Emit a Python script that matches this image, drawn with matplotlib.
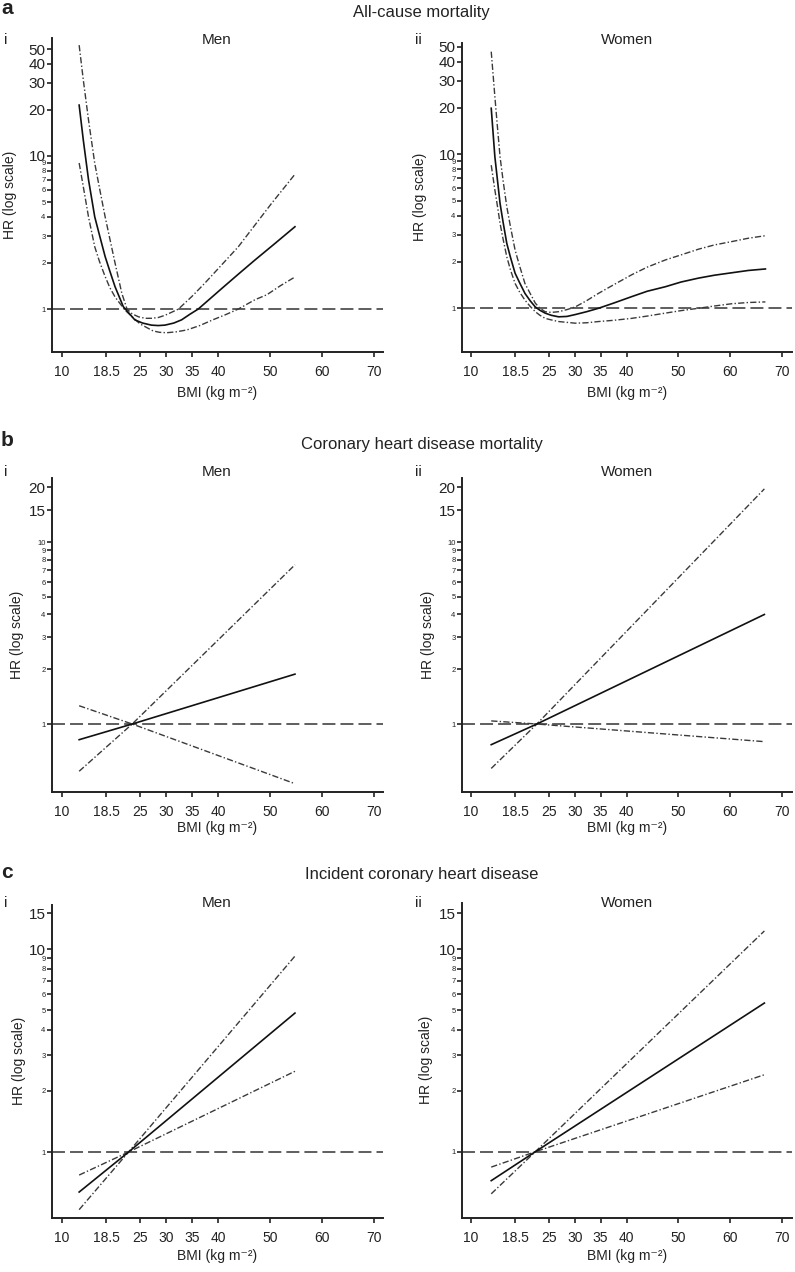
import matplotlib
matplotlib.use('Agg')
import matplotlib.pyplot as plt
from matplotlib.ticker import FixedLocator, FixedFormatter, NullLocator

plt.rcParams['font.family'] = ['Liberation Sans', 'DejaVu Sans']

# ---------------- data (BMI, HR) ----------------
# a) All-cause mortality, Men
a_men_bmi = [13.3, 14.1, 15.1, 16.3, 17.2, 18.3, 19.2, 20.2, 21.8, 23.0, 24.0, 25.5, 27.2,
             28.5, 29.8, 31.5, 33.0, 34.5, 36.2, 38.5, 40.7, 44.0, 47.1, 51.0, 54.8]
a_men_hr = [21.5, 12.7, 7.0, 4.0, 3.05, 2.2, 1.77, 1.40, 1.035, 0.93, 0.85, 0.81, 0.785,
            0.78, 0.785, 0.81, 0.85, 0.92, 1.0, 1.17, 1.36, 1.70, 2.09, 2.69, 3.45]
a_men_up_bmi = [13.3, 14.1, 15.1, 16.3, 17.2, 18.3, 19.2, 20.2, 21.5, 22.5, 23.5, 24.7, 26.0,
                27.2, 28.5, 29.8, 31.0, 32.4, 35.0, 37.5, 40.5, 43.9, 47.0, 50.3, 52.5, 54.8]
a_men_up_hr = [53.0, 31.4, 17.2, 8.96, 6.2, 4.0, 2.88, 2.0, 1.27, 1.0, 0.93, 0.89, 0.87,
               0.87, 0.88, 0.91, 0.95, 1.0, 1.21, 1.48, 1.91, 2.55, 3.5, 4.9, 6.07, 7.6]
a_men_lo_bmi = [13.3, 14.1, 15.1, 16.3, 17.2, 18.3, 19.2, 20.2, 22.1, 23.5, 25.0, 26.2, 27.5,
                28.7, 30.1, 32.0, 34.0, 36.5, 39.0, 41.5, 43.9, 47.1, 49.4, 52.0, 54.8]
a_men_lo_hr = [9.0, 6.3, 4.0, 2.55, 2.05, 1.63, 1.38, 1.2, 0.985, 0.89, 0.80, 0.76, 0.72,
               0.705, 0.70, 0.71, 0.73, 0.78, 0.85, 0.92, 1.0, 1.15, 1.24, 1.42, 1.62]

# a) All-cause mortality, Women
a_wom_bmi = [13.9, 14.6, 15.1, 15.6, 16.2, 16.9, 17.6, 18.5, 19.4, 20.4, 21.4, 22.4, 23.3,
             24.3, 25.5, 26.9, 28.5, 30.1, 32.3, 34.6, 37.5, 41.0, 44.0, 47.5, 50.5, 53.9,
             57.0, 60.3, 63.5, 66.8]
a_wom_hr = [19.9, 9.65, 6.8, 4.8, 3.6, 2.64, 2.15, 1.69, 1.46, 1.25, 1.12, 1.02, 0.97,
            0.93, 0.90, 0.88, 0.885, 0.91, 0.95, 1.0, 1.08, 1.19, 1.29, 1.38, 1.48, 1.57,
            1.64, 1.70, 1.76, 1.80]
a_wom_up_hr = [46.4, 23.7, 15.0, 9.65, 6.7, 4.57, 3.4, 2.39, 1.87, 1.45, 1.25, 1.08, 1.0,
               0.95, 0.94, 0.95, 0.98, 1.02, 1.12, 1.25, 1.42, 1.65, 1.85, 2.06, 2.22, 2.42,
               2.58, 2.71, 2.85, 2.96]
a_wom_lo_hr = [8.5, 5.87, 4.6, 3.56, 2.8, 2.16, 1.78, 1.45, 1.27, 1.13, 1.03, 0.95, 0.90,
               0.86, 0.84, 0.82, 0.81, 0.80, 0.805, 0.82, 0.835, 0.86, 0.89, 0.93, 0.965, 1.0,
               1.035, 1.07, 1.09, 1.10]

# b) Coronary heart disease mortality
b_men_bmi = [13.3, 23.5, 54.8]
b_men_hr = [0.82, 1.0, 1.88]
b_men_up_hr = [0.55, 1.0, 7.5]
b_men_lo_hr = [1.26, 1.0, 0.47]
b_wom_bmi = [13.9, 22.7, 66.6]
b_wom_hr = [0.77, 1.0, 4.0]
b_wom_up_hr = [0.57, 1.0, 19.6]
b_wom_lo_hr = [1.04, 1.0, 0.80]

# c) Incident coronary heart disease
c_men_bmi = [13.3, 22.8, 54.8]
c_men_hr = [0.635, 1.0, 4.84]
c_men_up_hr = [0.52, 1.0, 9.24]
c_men_lo_hr = [0.77, 1.0, 2.5]
c_wom_bmi = [13.9, 22.4, 66.6]
c_wom_hr = [0.72, 1.0, 5.42]
c_wom_up_hr = [0.62, 1.0, 12.3]
c_wom_lo_hr = [0.84, 1.0, 2.4]

x_ticks = [10, 18.5, 25, 30, 35, 40, 50, 60, 70]
x_tick_labels = ['10', '18.5', '25', '30', '35', '40', '50', '60', '70']

a_yticks = [1, 2, 3, 4, 5, 6, 7, 8, 9, 10, 20, 30, 40, 50]
a_big = [10, 20, 30, 40, 50]
b_yticks = [1, 2, 3, 4, 5, 6, 7, 8, 9, 10, 15, 20]
b_big = [15, 20]
c_yticks = [1, 2, 3, 4, 5, 6, 7, 8, 9, 10, 15]
c_big = [10, 15]

section_titles = ['All-cause mortality', 'Coronary heart disease mortality',
                  'Incident coronary heart disease']
section_letters = ['a', 'b', 'c']
sex_titles = ['Men', 'Women']
sex_numerals = ['i', 'ii']

# ---------------- figure ----------------
W, H = 795, 1272
fig = plt.figure(figsize=(W / 100, H / 100), dpi=100)


def add_ax(left, right, top, bottom):
    return fig.add_axes([left / W, 1 - bottom / H, (right - left) / W, (bottom - top) / H])


def ftext(x, y, s, **kw):
    fig.text(x / W, 1 - y / H, s, **kw)


CI_STYLE = dict(color='#3a3a3a', lw=1.0, ls=(0, (4.5, 1.6, 1.0, 1.6)))
EST_STYLE = dict(color='#111111', lw=1.2, ls='-')


def style_axes(ax, xlim, ylim, yticks, big):
    ax.set_yscale('log')
    ax.set_xlim(*xlim)
    ax.set_ylim(*ylim)
    for s in ['top', 'right']:
        ax.spines[s].set_visible(False)
    for s in ['left', 'bottom']:
        ax.spines[s].set_linewidth(1.4)
        ax.spines[s].set_color('#222222')
    ax.xaxis.set_major_locator(FixedLocator(x_ticks))
    ax.xaxis.set_major_formatter(FixedFormatter(x_tick_labels))
    ax.xaxis.set_minor_locator(NullLocator())
    ax.yaxis.set_major_locator(FixedLocator(yticks))
    ax.yaxis.set_major_formatter(FixedFormatter([str(v) for v in yticks]))
    ax.yaxis.set_minor_locator(NullLocator())
    ax.tick_params(axis='x', direction='out', length=3.6, width=1.2, pad=6,
                   labelsize=10, colors='#222222')
    ax.tick_params(axis='y', direction='out', length=3.6, width=1.2, pad=1,
                   colors='#222222')
    for lab, v in zip(ax.get_yticklabels(), yticks):
        lab.set_fontsize(11 if v in big else 5.5)
    ax.axhline(1.0, color='#333333', lw=1.1, ls=(0, (8.5, 3.3)), zorder=1)


def draw(ax, bmi, hr, up_bmi, up, lo_bmi, lo):
    ax.plot(up_bmi, up, **CI_STYLE, zorder=2)
    ax.plot(lo_bmi, lo, **CI_STYLE, zorder=2)
    ax.plot(bmi, hr, **EST_STYLE, zorder=3)


men_x = (8.08, 71.73)
wom_x = (8.26, 71.93)

# panel a
ax = add_ax(52, 383, 38, 352)
style_axes(ax, men_x, (0.524, 59.0), a_yticks, a_big)
draw(ax, a_men_bmi, a_men_hr, a_men_up_bmi, a_men_up_hr, a_men_lo_bmi, a_men_lo_hr)
ax = add_ax(462, 792, 43, 352)
style_axes(ax, wom_x, (0.520, 52.8), a_yticks, a_big)
draw(ax, a_wom_bmi, a_wom_hr, a_wom_bmi, a_wom_up_hr, a_wom_bmi, a_wom_lo_hr)

# panel b
ax = add_ax(52, 383, 478, 792)
style_axes(ax, men_x, (0.423, 22.5), b_yticks, b_big)
draw(ax, b_men_bmi, b_men_hr, b_men_bmi, b_men_up_hr, b_men_bmi, b_men_lo_hr)
ax = add_ax(462, 792, 478, 792)
style_axes(ax, wom_x, (0.423, 22.5), b_yticks, b_big)
draw(ax, b_wom_bmi, b_wom_hr, b_wom_bmi, b_wom_up_hr, b_wom_bmi, b_wom_lo_hr)

# panel c
ax = add_ax(52, 383, 905, 1218)
style_axes(ax, men_x, (0.473, 16.5), c_yticks, c_big)
draw(ax, c_men_bmi, c_men_hr, c_men_bmi, c_men_up_hr, c_men_bmi, c_men_lo_hr)
ax = add_ax(462, 792, 903, 1218)
style_axes(ax, wom_x, (0.471, 16.9), c_yticks, c_big)
draw(ax, c_wom_bmi, c_wom_hr, c_wom_bmi, c_wom_up_hr, c_wom_bmi, c_wom_lo_hr)

# ---------------- text ----------------
txt = dict(color='#222222')
letter_y = [9, 441, 872]
sub_y = [40, 472, 903]
xlab_y = [393, 828, 1256]
ylab_men_x = [10, 17, 19]
ylab_wom_x = [420, 428, 426]
ax_mid_y = [[195, 197], [635, 635], [1061, 1060]]

for k in range(3):
    ftext(1, letter_y[k], section_letters[k], ha='left', va='center',
          fontsize=15, fontweight='bold', **txt)
    ftext(421.5, letter_y[k] + 3, section_titles[k], ha='center', va='center',
          fontsize=12, **txt)
    ftext(5.5, sub_y[k], sex_numerals[0], ha='center', va='center', fontsize=11, **txt)
    ftext(418, sub_y[k], sex_numerals[1], ha='center', va='center', fontsize=11, **txt)
    ftext(217, sub_y[k], sex_titles[0], ha='center', va='center', fontsize=11, **txt)
    ftext(627, sub_y[k], sex_titles[1], ha='center', va='center', fontsize=11, **txt)
    ftext(217, xlab_y[k], 'BMI (kg m⁻²)', ha='center', va='center', fontsize=10, **txt)
    ftext(627, xlab_y[k], 'BMI (kg m⁻²)', ha='center', va='center', fontsize=10, **txt)
    ftext(ylab_men_x[k], ax_mid_y[k][0], 'HR (log scale)', ha='center', va='center',
          rotation=90, fontsize=10, **txt)
    ftext(ylab_wom_x[k], ax_mid_y[k][1], 'HR (log scale)', ha='center', va='center',
          rotation=90, fontsize=10, **txt)

fig.savefig('out.png', dpi=100)
